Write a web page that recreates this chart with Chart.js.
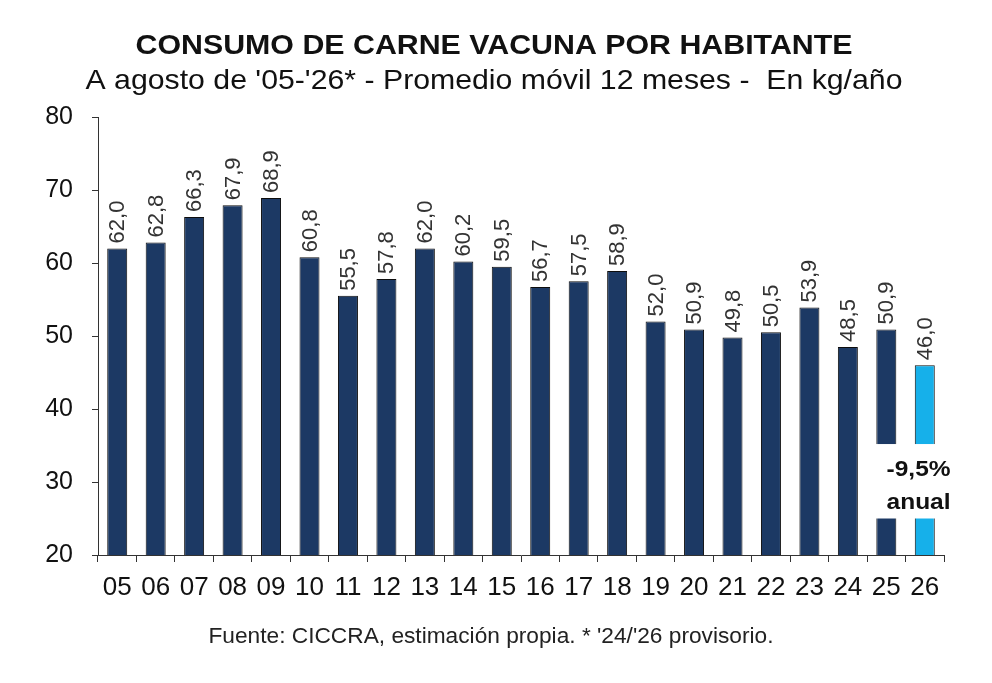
<!DOCTYPE html>
<html>
<head>
<meta charset="utf-8">
<script src="https://cdn.jsdelivr.net/npm/chart.js@4"></script>
<style>
  html, body { margin: 0; padding: 0; background: #fff; }
</style>
</head>
<body>
<canvas id="chart" width="992" height="683"></canvas>
<script>
const years = ['05','06','07','08','09','10','11','12','13','14','15','16','17','18','19','20','21','22','23','24','25','26'];
const consumo = [62.0, 62.8, 66.3, 67.9, 68.9, 60.8, 55.5, 57.8, 62.0, 60.2, 59.5, 56.7, 57.5, 58.9, 52.0, 50.9, 49.8, 50.5, 53.9, 48.5, 50.9, 46.0];
const yTicks = [20, 30, 40, 50, 60, 70, 80];
const noteLines = ['-9,5%', 'anual'];
const noteRange = [25, 35.2];

const FONT = '"Liberation Sans", Arial, sans-serif';
const navy = '#1c3964';
const lightBlue = '#16b0ea';
const barColors = consumo.map((v, i) => i === consumo.length - 1 ? lightBlue : navy);

// text squeezed/stretched horizontally to the width seen in the picture
function wideText(ctx, text, cx, baseline, font, width) {
    ctx.save();
    ctx.font = font;
    const w = ctx.measureText(text).width;
    ctx.translate(cx, baseline);
    ctx.scale(width / w, 1);
    ctx.textAlign = 'center';
    ctx.textBaseline = 'alphabetic';
    ctx.fillText(text, 0, 0);
    ctx.restore();
}

const valueLabels = {
    id: 'valueLabels',
    afterDatasetsDraw(chart) {
        const ctx = chart.ctx;
        const meta = chart.getDatasetMeta(0);
        ctx.save();
        ctx.font = '22px ' + FONT;
        ctx.fillStyle = '#333';
        ctx.textBaseline = 'middle';
        ctx.textAlign = 'left';
        meta.data.forEach((bar, i) => {
            const p = bar.getProps(['x', 'y'], true);
            ctx.save();
            ctx.translate(p.x + 1, p.y - 5);
            ctx.rotate(-Math.PI / 2);
            ctx.fillText(consumo[i].toFixed(1).replace('.', ','), 0, 0);
            ctx.restore();
        });
        ctx.restore();
    }
};

const annualNote = {
    id: 'annualNote',
    afterDatasetsDraw(chart) {
        const ctx = chart.ctx;
        const meta = chart.getDatasetMeta(0);
        const y = chart.scales.y;
        const n = consumo.length;
        const b1 = meta.data[n - 2].getProps(['x', 'width'], true);
        const b2 = meta.data[n - 1].getProps(['x', 'width'], true);
        const left = b1.x - b1.width / 2 - 2;
        const right = b2.x + b2.width / 2 + 2;
        const top = y.getPixelForValue(noteRange[1]);
        const bottom = y.getPixelForValue(noteRange[0]);
        ctx.save();
        ctx.fillStyle = '#fff';
        ctx.fillRect(left, top, right - left, bottom - top);
        ctx.fillStyle = '#111';
        const cx = (b1.x + b2.x) / 2 + 13;
        wideText(ctx, noteLines[0], cx, top + 32, 'bold 22px ' + FONT, 64);
        wideText(ctx, noteLines[1], cx, top + 65, 'bold 22px ' + FONT, 64);
        ctx.restore();
    }
};

const headings = {
    id: 'headings',
    afterDraw(chart) {
        const ctx = chart.ctx;
        ctx.save();
        ctx.fillStyle = '#111';
        wideText(ctx, 'CONSUMO DE CARNE VACUNA POR HABITANTE', 494, 54, 'bold 28px ' + FONT, 717);
        wideText(ctx, "A agosto de '05-'26* - Promedio móvil 12 meses -  En kg/año", 494, 89, '28px ' + FONT, 817);
        ctx.fillStyle = '#222';
        wideText(ctx, "Fuente: CICCRA, estimación propia. * '24/'26 provisorio.", 491, 643, '22px ' + FONT, 565);
        ctx.restore();
    }
};

new Chart(document.getElementById('chart'), {
    type: 'bar',
    data: {
        labels: years,
        datasets: [{
            data: consumo,
            backgroundColor: barColors,
            borderColor: '#0d0d0d',
            borderWidth: 1,
            barPercentage: 0.52,
            categoryPercentage: 1
        }]
    },
    options: {
        responsive: false,
        animation: false,
        layout: { padding: { top: 117, left: 10, right: 48, bottom: 88 } },
        plugins: { legend: { display: false }, tooltip: { enabled: false } },
        scales: {
            x: {
                grid: { display: true, drawOnChartArea: false, tickLength: 7, color: '#333', offset: true },
                border: { color: '#333', width: 1 },
                ticks: { color: '#111', font: { size: 26, family: FONT }, padding: 10, maxRotation: 0 },
                afterFit: s => { s.height = 40; }
            },
            y: {
                min: 20,
                max: 80,
                afterBuildTicks: s => { s.ticks = yTicks.map(v => ({ value: v })); },
                grid: { display: true, drawOnChartArea: false, tickLength: 6, color: '#333' },
                border: { color: '#333', width: 1 },
                ticks: { color: '#111', font: { size: 25, family: FONT }, padding: 19 },
                afterFit: s => { s.width = 88; }
            }
        }
    },
    plugins: [valueLabels, annualNote, headings]
});
</script>
</body>
</html>
